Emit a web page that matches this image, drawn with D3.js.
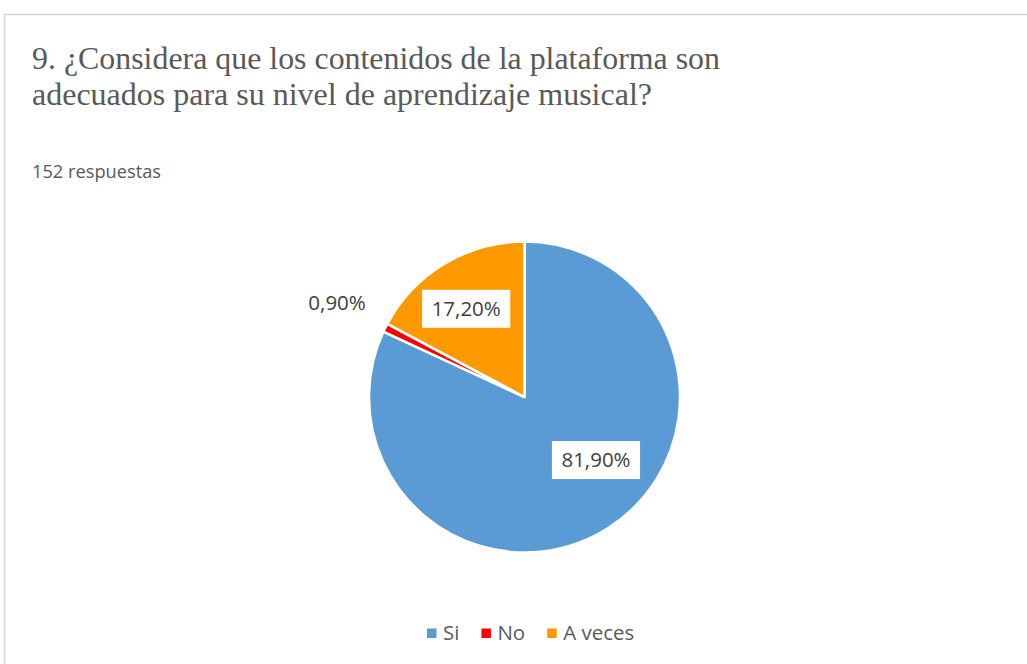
<!DOCTYPE html>
<html>
<head>
<meta charset="utf-8">
<script src="https://cdn.jsdelivr.net/npm/d3@7"></script>
<style>
  html, body { margin: 0; padding: 0; background: #ffffff; overflow: hidden; }
  svg { display: block; }
</style>
</head>
<body>
<svg id="chart" width="1027" height="664"></svg>
<script>
// Survey answers (percent of 152 responses)
const categories = ["Si", "No", "A veces"];
const values = [81.9, 0.9, 17.2];
const valueLabels = ["81,90%", "0,90%", "17,20%"];
const colors = ["#5B9BD5", "#FF0000", "#FF9900"];
const titleLines = [
  "9. ¿Considera que los contenidos de la plataforma son",
  "adecuados para su nivel de aprendizaje musical?"
];
const subtitle = "152 respuestas";

const W = 1027, H = 664;
const svg = d3.select("#chart");
const textColor = "#595959";

// Chart frame (runs off the right and bottom edges)
svg.append("rect")
  .attr("x", 4.5).attr("y", 14.5)
  .attr("width", W + 20).attr("height", H + 20)
  .attr("fill", "#ffffff")
  .attr("stroke", "#d9d9d9").attr("stroke-width", 1.6);

// Title
const titleWidths = [688, 620];
svg.append("g").selectAll("text")
  .data(titleLines)
  .join("text")
  .attr("x", 32)
  .attr("y", (d, i) => 69 + i * 36)
  .attr("font-family", "'Liberation Serif', 'Times New Roman', serif")
  .attr("font-size", 31)
  .attr("fill", textColor)
  .attr("textLength", (d, i) => titleWidths[i])
  .attr("lengthAdjust", "spacingAndGlyphs")
  .text(d => d);

svg.append("text")
  .attr("x", 32).attr("y", 178)
  .attr("font-family", "'Open Sans', 'Noto Sans', sans-serif")
  .attr("font-size", 19)
  .attr("fill", textColor)
  .attr("textLength", 129)
  .attr("lengthAdjust", "spacingAndGlyphs")
  .text(subtitle);

// Pie
const cx = 524.5, cy = 397, radius = 155.5;
const data = categories.map((c, i) => ({ cat: c, value: values[i], label: valueLabels[i], color: colors[i] }));

const pie = d3.pie().value(d => d.value).sort(null);
const arcs = pie(data);
const arc = d3.arc().innerRadius(0).outerRadius(radius);

const g = svg.append("g").attr("transform", `translate(${cx},${cy})`);
g.selectAll("path")
  .data(arcs)
  .join("path")
  .attr("d", arc)
  .attr("fill", d => d.data.color)
  .attr("stroke", "#ffffff")
  .attr("stroke-width", 2.5)
  .attr("stroke-linejoin", "round");

// Data label placement: radius as fraction of pie radius, angular nudge in degrees
const labelPlacement = {
  "Si": { r: 0.613, shift: -16, boxed: true },
  "No": { r: 1.35, shift: 0.3, boxed: false },
  "A veces": { r: 0.68, shift: -2.5, boxed: true }
};

const labelFont = "'Open Sans', 'Noto Sans', sans-serif";
const labelSize = 20.5;

arcs.forEach(a => {
  const p = labelPlacement[a.data.cat];
  const mid = (a.startAngle + a.endAngle) / 2 + p.shift * Math.PI / 180;
  const lx = Math.sin(mid) * radius * p.r;
  const ly = -Math.cos(mid) * radius * p.r;
  const lg = g.append("g").attr("transform", `translate(${lx},${ly})`);
  const t = lg.append("text")
    .attr("text-anchor", "middle")
    .attr("dy", "0.35em")
    .attr("font-family", labelFont)
    .attr("font-size", labelSize)
    .attr("fill", "#404040")
    .text(a.data.label);
  if (p.boxed) {
    const bb = t.node().getBBox();
    const bw = bb.width + 19, bh = 38;
    lg.insert("rect", "text")
      .attr("x", -bw / 2).attr("y", -bh / 2)
      .attr("width", bw).attr("height", bh)
      .attr("fill", "#ffffff");
  }
});

// Legend
const legend = svg.append("g");
const legendY = 633;
const legendItems = legend.selectAll("g")
  .data(data)
  .join("g");

legendItems.append("rect")
  .attr("width", 9.5).attr("height", 9.5)
  .attr("y", legendY - 4.5)
  .attr("fill", d => d.color);

legendItems.append("text")
  .attr("x", 16)
  .attr("y", legendY)
  .attr("dy", "0.36em")
  .attr("font-family", labelFont)
  .attr("font-size", 20.5)
  .attr("fill", textColor)
  .text(d => d.cat);

// Lay out legend entries in a row
let xPos = 0;
const gap = 22;
const offsets = [];
legendItems.each(function () {
  offsets.push(xPos);
  xPos += this.getBBox().width + gap;
});
const startX = 427;
legendItems.attr("transform", (d, i) => `translate(${startX + offsets[i]},0)`);
</script>
</body>
</html>
